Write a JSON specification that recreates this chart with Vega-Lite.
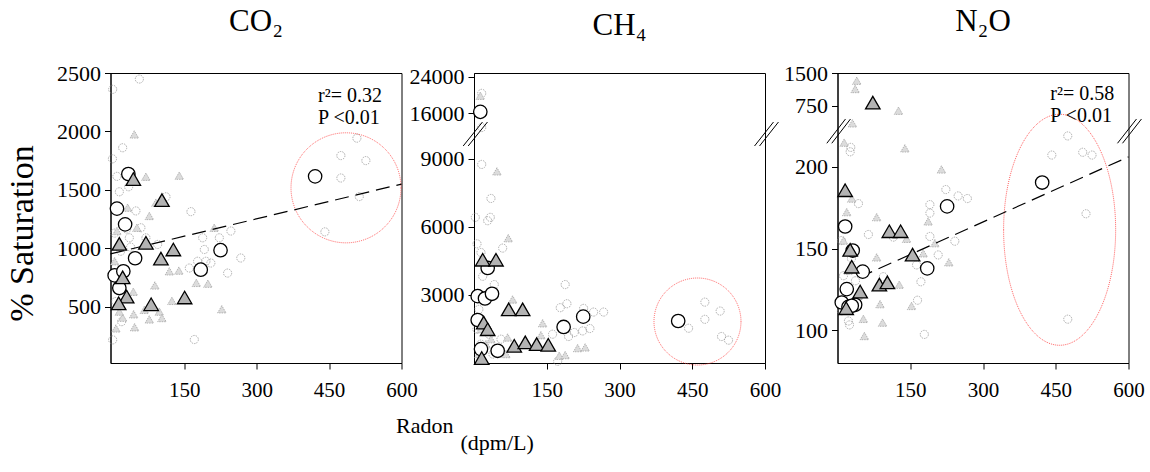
{
  "$schema": "https://vega.github.io/schema/vega-lite/v6.json",
  "background": "white",
  "padding": {"left": 4.5, "top": 5, "right": 5, "bottom": 5},
  "bounds": "flush",
  "spacing": 72.5,
  "config": {
    "font": "Liberation Serif",
    "view": {"stroke": "black", "strokeWidth": 1},
    "axis": {"grid": false, "domainColor": "black", "tickColor": "black", "labelColor": "black", "titleColor": "black", "labelFont": "Liberation Serif", "titleFont": "Liberation Serif", "labelFontSize": 21, "titleFontWeight": "normal", "tickSize": 6, "labelPadding": 4, "labelFlush": false, "labelOverlap": false},
    "title": {"font": "Liberation Serif", "fontSize": 31, "fontWeight": "normal", "color": "black", "offset": 24, "anchor": "middle"}
  },
  "datasets": {
    "co2": [
      {"x":1.5,"y":2360,"k":"a"},{"x":56.8,"y":2448,"k":"a"},{"x":22.2,"y":1860,"k":"a"},{"x":1,"y":1765,"k":"a"},{"x":10.4,"y":1615,"k":"a"},{"x":15.3,"y":1483,"k":"a"},{"x":34.6,"y":1526,"k":"a"},{"x":49.7,"y":1319,"k":"a"},{"x":112,"y":1440,"k":"a"},{"x":163.7,"y":1313,"k":"a"},{"x":60,"y":1175,"k":"a"},{"x":70.4,"y":1089,"k":"a"},{"x":36,"y":1089,"k":"a"},{"x":94.7,"y":1032,"k":"a"},{"x":188,"y":1089,"k":"a"},{"x":191.4,"y":989,"k":"a"},{"x":194.7,"y":888,"k":"a"},{"x":222.5,"y":1089,"k":"a"},{"x":246.5,"y":1147,"k":"a"},{"x":267,"y":916,"k":"a"},{"x":239.7,"y":787,"k":"a"},{"x":160.3,"y":830,"k":"a"},{"x":177.5,"y":888,"k":"a"},{"x":205,"y":873,"k":"a"},{"x":474.4,"y":1793,"k":"a"},{"x":507.6,"y":1942,"k":"a"},{"x":526.2,"y":1750,"k":"a"},{"x":474.4,"y":1601,"k":"a"},{"x":512.5,"y":1442,"k":"a"},{"x":441.3,"y":1140,"k":"a"},{"x":170.7,"y":218,"k":"a"},{"x":5.6,"y":1129,"k":"a"},{"x":18,"y":974,"k":"a"},{"x":7.7,"y":543,"k":"a"},{"x":20,"y":371,"k":"a"},{"x":1.5,"y":215,"k":"a"},{"x":30.5,"y":1164,"k":"a"},{"x":38.7,"y":1009,"k":"a"},
      {"x":46.4,"y":1974,"k":"b"},{"x":70.4,"y":1612,"k":"b"},{"x":139.6,"y":1621,"k":"b"},{"x":32.5,"y":1347,"k":"b"},{"x":77.5,"y":1276,"k":"b"},{"x":91.2,"y":1390,"k":"b"},{"x":212,"y":1175,"k":"b"},{"x":51.8,"y":1175,"k":"b"},{"x":10.4,"y":1147,"k":"b"},{"x":119,"y":802,"k":"b"},{"x":138.8,"y":808,"k":"b"},{"x":174.9,"y":703,"k":"b"},{"x":198.9,"y":696,"k":"b"},{"x":89,"y":681,"k":"b"},{"x":44.3,"y":627,"k":"b"},{"x":124.3,"y":549,"k":"b"},{"x":227.7,"y":477,"k":"b"},{"x":67.1,"y":472,"k":"b"},{"x":98.2,"y":457,"k":"b"},{"x":45,"y":434,"k":"b"},{"x":77.5,"y":390,"k":"b"},{"x":103.6,"y":402,"k":"b"},{"x":47,"y":323,"k":"b"},{"x":22.2,"y":405,"k":"b"},{"x":15.3,"y":457,"k":"b"},{"x":8.3,"y":313,"k":"b"},{"x":5.6,"y":888,"k":"b"},{"x":11.8,"y":715,"k":"b"},
      {"x":34,"y":1635,"k":"c"},{"x":10.4,"y":1339,"k":"c"},{"x":27.3,"y":1204,"k":"c"},{"x":48,"y":914,"k":"c"},{"x":225,"y":983,"k":"c"},{"x":184,"y":816,"k":"c"},{"x":5.6,"y":767,"k":"c"},{"x":23.6,"y":802,"k":"c"},{"x":15.3,"y":659,"k":"c"},{"x":421,"y":1615,"k":"c"},
      {"x":44.3,"y":1592,"k":"d"},{"x":103.6,"y":1411,"k":"d"},{"x":15.3,"y":1037,"k":"d"},{"x":70.4,"y":1046,"k":"d"},{"x":101.5,"y":911,"k":"d"},{"x":127.2,"y":989,"k":"d"},{"x":22.2,"y":750,"k":"d"},{"x":30.5,"y":586,"k":"d"},{"x":13.9,"y":528,"k":"d"},{"x":81.2,"y":520,"k":"d"},{"x":150.6,"y":578,"k":"d"}
    ],
    "co2fit": [{"x":-3,"y":951},{"x":600,"y":1549}],
    "ch4": [
      {"x":15.9,"y":20340,"k":"a"},{"x":15.9,"y":12848,"k":"a"},{"x":15.9,"y":8760,"k":"a"},{"x":35,"y":7258,"k":"a"},{"x":2.7,"y":6425,"k":"a"},{"x":28.2,"y":6277,"k":"a"},{"x":33.6,"y":6425,"k":"a"},{"x":6.2,"y":5256,"k":"a"},{"x":59.1,"y":5068,"k":"a"},{"x":14.4,"y":4875,"k":"a"},{"x":17.9,"y":3824,"k":"a"},{"x":41.8,"y":3460,"k":"a"},{"x":188,"y":3460,"k":"a"},{"x":177.8,"y":2440,"k":"a"},{"x":191.6,"y":2615,"k":"a"},{"x":226,"y":2409,"k":"a"},{"x":246.6,"y":2247,"k":"a"},{"x":267.3,"y":2247,"k":"a"},{"x":239,"y":1520,"k":"a"},{"x":224,"y":1415,"k":"a"},{"x":206.7,"y":1345,"k":"a"},{"x":195,"y":1169,"k":"a"},{"x":162,"y":1270,"k":"a"},{"x":476,"y":2685,"k":"a"},{"x":507.5,"y":2291,"k":"a"},{"x":476,"y":1927,"k":"a"},{"x":442.4,"y":1533,"k":"a"},{"x":510.4,"y":1169,"k":"a"},{"x":524.8,"y":1007,"k":"a"},{"x":172.5,"y":74,"k":"a"},{"x":10,"y":2365,"k":"a"},{"x":31,"y":1270,"k":"a"},{"x":14,"y":832,"k":"a"},{"x":39,"y":394,"k":"a"},{"x":55.6,"y":1051,"k":"a"},{"x":6,"y":1489,"k":"a"},
      {"x":13,"y":19813,"k":"b"},{"x":47.4,"y":8453,"k":"b"},{"x":70.7,"y":5506,"k":"b"},{"x":79.7,"y":2803,"k":"b"},{"x":141.6,"y":1752,"k":"b"},{"x":69.4,"y":1126,"k":"b"},{"x":138,"y":1226,"k":"b"},{"x":213.7,"y":657,"k":"b"},{"x":229.3,"y":688,"k":"b"},{"x":175.8,"y":320,"k":"b"},{"x":188,"y":350,"k":"b"},{"x":14,"y":1489,"k":"b"},{"x":24.7,"y":832,"k":"b"},{"x":45,"y":613,"k":"b"},{"x":10,"y":394,"k":"b"},{"x":66,"y":394,"k":"b"},{"x":35,"y":1051,"k":"b"},
      {"x":13,"y":16290,"k":"c"},{"x":28.2,"y":4192,"k":"c"},{"x":7.6,"y":2948,"k":"c"},{"x":22.7,"y":2847,"k":"c"},{"x":37.1,"y":3053,"k":"c"},{"x":7.6,"y":1897,"k":"c"},{"x":184.8,"y":1590,"k":"c"},{"x":225.2,"y":2045,"k":"c"},{"x":421,"y":1853,"k":"c"},{"x":14.4,"y":613,"k":"c"},{"x":48.8,"y":539,"k":"c"},
      {"x":17.9,"y":4555,"k":"d"},{"x":45.3,"y":4555,"k":"d"},{"x":71.5,"y":2365,"k":"d"},{"x":100.3,"y":2365,"k":"d"},{"x":20,"y":1783,"k":"d"},{"x":28.2,"y":1489,"k":"d"},{"x":83,"y":758,"k":"d"},{"x":105.7,"y":907,"k":"d"},{"x":129.2,"y":832,"k":"d"},{"x":153.1,"y":802,"k":"d"},{"x":15.9,"y":219,"k":"d"}
    ],
    "n2o": [
      {"x":27.3,"y":211.9,"k":"a"},{"x":26.1,"y":209.2,"k":"a"},{"x":474.8,"y":218.9,"k":"a"},{"x":441.9,"y":207.2,"k":"a"},{"x":505.6,"y":208.9,"k":"a"},{"x":524.8,"y":207.2,"k":"a"},{"x":512.4,"y":171.3,"k":"a"},{"x":474.8,"y":106.8,"k":"a"},{"x":223.4,"y":186.1,"k":"a"},{"x":248.7,"y":182.2,"k":"a"},{"x":267.8,"y":180.6,"k":"a"},{"x":190.5,"y":176.9,"k":"a"},{"x":43.2,"y":177.5,"k":"a"},{"x":190.5,"y":171.7,"k":"a"},{"x":63.7,"y":158.6,"k":"a"},{"x":190.5,"y":157.4,"k":"a"},{"x":241.9,"y":154.5,"k":"a"},{"x":207.6,"y":146.1,"k":"a"},{"x":163,"y":140,"k":"a"},{"x":172,"y":129.7,"k":"a"},{"x":94.6,"y":132.8,"k":"a"},{"x":115.1,"y":157,"k":"a"},{"x":165,"y":118.4,"k":"a"},{"x":179,"y":97.5,"k":"a"},{"x":24.7,"y":103.3,"k":"a"},{"x":8.2,"y":154.9,"k":"a"},{"x":28.8,"y":143.9,"k":"a"},{"x":12.3,"y":133.4,"k":"a"},{"x":37,"y":130.3,"k":"a"},{"x":22.6,"y":105.7,"k":"a"},{"x":8.2,"y":111.9,"k":"a"},
      {"x":39.8,"y":1323,"k":"b"},{"x":36.5,"y":1133,"k":"b"},{"x":125.8,"y":666,"k":"b"},{"x":30.9,"y":454,"k":"b"},{"x":13.8,"y":214.8,"k":"b"},{"x":139,"y":211.3,"k":"b"},{"x":214.4,"y":198.4,"k":"b"},{"x":29.4,"y":180.6,"k":"b"},{"x":80.8,"y":169.2,"k":"b"},{"x":187,"y":166.6,"k":"b"},{"x":19.1,"y":172.3,"k":"b"},{"x":142.5,"y":156,"k":"b"},{"x":200.8,"y":153.3,"k":"b"},{"x":80.8,"y":144.6,"k":"b"},{"x":176.8,"y":147.1,"k":"b"},{"x":229.6,"y":141.6,"k":"b"},{"x":127.4,"y":127.9,"k":"b"},{"x":87.8,"y":116,"k":"b"},{"x":152.7,"y":114.9,"k":"b"},{"x":93,"y":104.7,"k":"b"},{"x":55.5,"y":96.5,"k":"b"},{"x":12.3,"y":154.9,"k":"b"},{"x":22.6,"y":136.5,"k":"b"},{"x":43.2,"y":121.1,"k":"b"},{"x":53.4,"y":107,"k":"b"},
      {"x":422,"y":190.4,"k":"c"},{"x":226,"y":175.8,"k":"c"},{"x":15.8,"y":163.5,"k":"c"},{"x":31.4,"y":148.8,"k":"c"},{"x":52,"y":135.9,"k":"c"},{"x":185,"y":137.9,"k":"c"},{"x":19.1,"y":125.2,"k":"c"},{"x":8.8,"y":117,"k":"c"},{"x":36.4,"y":115.6,"k":"c"},{"x":22.6,"y":114.3,"k":"c"},{"x":29.4,"y":115,"k":"c"},
      {"x":72.8,"y":819,"k":"d"},{"x":15.8,"y":185.7,"k":"d"},{"x":106.9,"y":160.6,"k":"d"},{"x":130.1,"y":160.6,"k":"d"},{"x":154.8,"y":146.3,"k":"d"},{"x":26.1,"y":149.2,"k":"d"},{"x":29.4,"y":138.9,"k":"d"},{"x":86.3,"y":127.9,"k":"d"},{"x":102.8,"y":129.3,"k":"d"},{"x":46.7,"y":123.7,"k":"d"},{"x":17.9,"y":113.5,"k":"d"}
    ],
    "n2ofit": [{"x":45,"y":132.4},{"x":600,"y":206.1}]
  },
  "hconcat": [
    {
      "width": 291, "height": 290,
      "title": {"text": "CO₂"},
      "layer": [
        {"data": {"name": "co2"}, "transform": [{"filter": "datum.k == 'a'"}], "mark": {"type": "point", "shape": "circle", "size": 66, "filled": false, "stroke": "#8c8c8c", "strokeWidth": 0.7, "strokeDash": [1.5, 1], "opacity": 1},
         "encoding": {
          "x": {"field": "x", "type": "quantitative", "scale": {"domain": [-3, 600], "nice": false, "zero": false},
                "axis": {"values": [150, 300, 450, 600], "format": "d", "labelPadding": 10, "title": "Radon", "titleFontSize": 22, "titleAnchor": "end", "titleAlign": "left", "titleX": 285, "titlePadding": 15}},
          "y": {"field": "y", "type": "quantitative", "scale": {"domain": [17, 2500], "nice": false, "zero": false},
                "axis": {"values": [500, 1000, 1500, 2000, 2500], "format": "d", "labelFontSize": 22, "title": "% Saturation", "titleFontSize": 34, "titlePadding": 17, "titleY": 160}}}},
        {"data": {"values": [{}]}, "mark": {"type": "point", "shape": "circle", "size": 12100, "filled": false, "stroke": "#ff3b3b", "strokeWidth": 0.8, "strokeDash": [1, 1], "opacity": 1},
         "encoding": {"x": {"datum": 485, "type": "quantitative"}, "y": {"datum": 1517, "type": "quantitative"}}},
        {"data": {"name": "co2"}, "transform": [{"filter": "datum.k == 'b'"}], "mark": {"type": "point", "shape": "triangle-up", "size": 72, "filled": true, "fill": "#dcdcdc", "stroke": "#999999", "strokeWidth": 0.7, "strokeDash": [1.5, 1], "opacity": 1},
         "encoding": {"x": {"field": "x", "type": "quantitative"}, "y": {"field": "y", "type": "quantitative"}}},
        {"data": {"name": "co2fit"}, "mark": {"type": "line", "color": "black", "strokeWidth": 1.2, "strokeDash": [14, 7]},
         "encoding": {"x": {"field": "x", "type": "quantitative"}, "y": {"field": "y", "type": "quantitative"}}},
        {"data": {"name": "co2"}, "transform": [{"filter": "datum.k == 'c'"}], "mark": {"type": "point", "shape": "circle", "size": 180, "filled": true, "fill": "white", "stroke": "black", "strokeWidth": 1.3, "opacity": 1},
         "encoding": {"x": {"field": "x", "type": "quantitative"}, "y": {"field": "y", "type": "quantitative"}}},
        {"data": {"name": "co2"}, "transform": [{"filter": "datum.k == 'd'"}], "mark": {"type": "point", "shape": "triangle-up", "size": 210, "filled": true, "fill": "#b3b3b3", "stroke": "black", "strokeWidth": 1.3, "opacity": 1},
         "encoding": {"x": {"field": "x", "type": "quantitative"}, "y": {"field": "y", "type": "quantitative"}}},
        {"data": {"values": [{"t": "r²= 0.32"}]}, "mark": {"type": "text", "align": "left", "baseline": "middle", "fontSize": 20, "font": "Liberation Serif", "color": "black"},
         "encoding": {"text": {"field": "t"}, "x": {"datum": 427, "type": "quantitative"}, "y": {"datum": 2303, "type": "quantitative"}}},
        {"data": {"values": [{"t": "P <0.01"}]}, "mark": {"type": "text", "align": "left", "baseline": "middle", "fontSize": 20, "font": "Liberation Serif", "color": "black"},
         "encoding": {"text": {"field": "t"}, "x": {"datum": 427, "type": "quantitative"}, "y": {"datum": 2114, "type": "quantitative"}}}
      ]
    },
    {
      "width": 291, "height": 290,
      "title": {"text": "CH₄"},
      "layer": [
        {"data": {"name": "ch4"}, "transform": [{"filter": "datum.k == 'a'"}], "mark": {"type": "point", "shape": "circle", "size": 66, "filled": false, "stroke": "#8c8c8c", "strokeWidth": 0.7, "strokeDash": [1.5, 1], "opacity": 1},
         "encoding": {
          "x": {"field": "x", "type": "quantitative", "scale": {"domain": [0, 600], "nice": false, "zero": false},
                "axis": {"values": [150, 300, 450, 600], "format": "d", "labelPadding": 10, "title": "(dpm/L)", "titleFontSize": 22, "titleAnchor": "start", "titleAlign": "left", "titleX": -14, "titlePadding": 32}},
          "y": {"field": "y", "type": "quantitative", "scale": {"domain": [0, 10000, 10930, 24800], "range": [290, 63.3, 63.3, 0], "nice": false, "zero": false},
                "axis": {"values": [3000, 6000, 9000, 16000, 24000], "format": "d", "labelFontSize": 22, "title": null}}}},
        {"data": {"values": [{}]}, "mark": {"type": "point", "shape": "circle", "size": 7569, "filled": false, "stroke": "#ff3b3b", "strokeWidth": 0.8, "strokeDash": [1, 1], "opacity": 1},
         "encoding": {"x": {"datum": 460.8, "type": "quantitative"}, "y": {"datum": 1830, "type": "quantitative"}}},
        {"data": {"name": "ch4"}, "transform": [{"filter": "datum.k == 'b'"}], "mark": {"type": "point", "shape": "triangle-up", "size": 72, "filled": true, "fill": "#dcdcdc", "stroke": "#999999", "strokeWidth": 0.7, "strokeDash": [1.5, 1], "opacity": 1},
         "encoding": {"x": {"field": "x", "type": "quantitative"}, "y": {"field": "y", "type": "quantitative"}}},
        {"data": {"name": "ch4"}, "transform": [{"filter": "datum.k == 'c'"}], "mark": {"type": "point", "shape": "circle", "size": 180, "filled": true, "fill": "white", "stroke": "black", "strokeWidth": 1.3, "opacity": 1},
         "encoding": {"x": {"field": "x", "type": "quantitative"}, "y": {"field": "y", "type": "quantitative"}}},
        {"data": {"name": "ch4"}, "transform": [{"filter": "datum.k == 'd'"}], "mark": {"type": "point", "shape": "triangle-up", "size": 210, "filled": true, "fill": "#b3b3b3", "stroke": "black", "strokeWidth": 1.3, "opacity": 1},
         "encoding": {"x": {"field": "x", "type": "quantitative"}, "y": {"field": "y", "type": "quantitative"}}},
        {"data": {"values": [{}]}, "mark": {"type": "rule", "color": "black", "strokeWidth": 1, "clip": false},
         "encoding": {"x": {"datum": -22.3, "type": "quantitative"}, "x2": {"datum": 17.5}, "y": {"datum": 9572, "type": "quantitative"}, "y2": {"datum": 14063}}},
        {"data": {"values": [{}]}, "mark": {"type": "rule", "color": "black", "strokeWidth": 1, "clip": false},
         "encoding": {"x": {"datum": -12, "type": "quantitative"}, "x2": {"datum": 27.8}, "y": {"datum": 9572, "type": "quantitative"}, "y2": {"datum": 14063}}},
        {"data": {"values": [{}]}, "mark": {"type": "rule", "color": "black", "strokeWidth": 1, "clip": false},
         "encoding": {"x": {"datum": 578.4, "type": "quantitative"}, "x2": {"datum": 617.5}, "y": {"datum": 9572, "type": "quantitative"}, "y2": {"datum": 14063}}},
        {"data": {"values": [{}]}, "mark": {"type": "rule", "color": "black", "strokeWidth": 1, "clip": false},
         "encoding": {"x": {"datum": 588.7, "type": "quantitative"}, "x2": {"datum": 627.8}, "y": {"datum": 9572, "type": "quantitative"}, "y2": {"datum": 14063}}}
      ]
    },
    {
      "width": 291, "height": 290,
      "title": {"text": "N₂O"},
      "layer": [
        {"data": {"name": "n2o"}, "transform": [{"filter": "datum.k == 'a'"}], "mark": {"type": "point", "shape": "circle", "size": 66, "filled": false, "stroke": "#8c8c8c", "strokeWidth": 0.7, "strokeDash": [1.5, 1], "opacity": 1},
         "encoding": {
          "x": {"field": "x", "type": "quantitative", "scale": {"domain": [0, 600], "nice": false, "zero": false},
                "axis": {"values": [150, 300, 450, 600], "format": "d", "labelPadding": 10, "title": null}},
          "y": {"field": "y", "type": "quantitative", "scale": {"domain": [80, 221, 300, 750, 1500], "range": [290, 59.5, 59.5, 32.7, 0], "nice": false, "zero": false},
                "axis": {"values": [100, 150, 200, 750, 1500], "format": "d", "labelFontSize": 22, "title": null}}}},
        {"data": {"values": [{}]}, "mark": {"type": "point", "shape": "M -0.485 0 A 0.485 1 0 1 1 0.485 0 A 0.485 1 0 1 1 -0.485 0 Z", "size": 53361, "filled": false, "stroke": "#ff3b3b", "strokeWidth": 0.8, "strokeDash": [1, 1], "opacity": 1},
         "encoding": {"x": {"datum": 458, "type": "quantitative"}, "y": {"datum": 161.5, "type": "quantitative"}}},
        {"data": {"name": "n2o"}, "transform": [{"filter": "datum.k == 'b'"}], "mark": {"type": "point", "shape": "triangle-up", "size": 72, "filled": true, "fill": "#dcdcdc", "stroke": "#999999", "strokeWidth": 0.7, "strokeDash": [1.5, 1], "opacity": 1},
         "encoding": {"x": {"field": "x", "type": "quantitative"}, "y": {"field": "y", "type": "quantitative"}}},
        {"data": {"name": "n2ofit"}, "mark": {"type": "line", "color": "black", "strokeWidth": 1.2, "strokeDash": [14, 7]},
         "encoding": {"x": {"field": "x", "type": "quantitative"}, "y": {"field": "y", "type": "quantitative"}}},
        {"data": {"name": "n2o"}, "transform": [{"filter": "datum.k == 'c'"}], "mark": {"type": "point", "shape": "circle", "size": 180, "filled": true, "fill": "white", "stroke": "black", "strokeWidth": 1.3, "opacity": 1},
         "encoding": {"x": {"field": "x", "type": "quantitative"}, "y": {"field": "y", "type": "quantitative"}}},
        {"data": {"name": "n2o"}, "transform": [{"filter": "datum.k == 'd'"}], "mark": {"type": "point", "shape": "triangle-up", "size": 210, "filled": true, "fill": "#b3b3b3", "stroke": "black", "strokeWidth": 1.3, "opacity": 1},
         "encoding": {"x": {"field": "x", "type": "quantitative"}, "y": {"field": "y", "type": "quantitative"}}},
        {"data": {"values": [{"t": "r²= 0.58"}]}, "mark": {"type": "text", "align": "left", "baseline": "middle", "fontSize": 20, "font": "Liberation Serif", "color": "black"},
         "encoding": {"text": {"field": "t"}, "x": {"datum": 438.6, "type": "quantitative"}, "y": {"datum": 1018, "type": "quantitative"}}},
        {"data": {"values": [{"t": "P <0.01"}]}, "mark": {"type": "text", "align": "left", "baseline": "middle", "fontSize": 20, "font": "Liberation Serif", "color": "black"},
         "encoding": {"text": {"field": "t"}, "x": {"datum": 438.6, "type": "quantitative"}, "y": {"datum": 577, "type": "quantitative"}}},
        {"data": {"values": [{}]}, "mark": {"type": "rule", "color": "black", "strokeWidth": 1, "clip": false},
         "encoding": {"x": {"datum": -22, "type": "quantitative"}, "x2": {"datum": 16.5}, "y": {"datum": 214.4, "type": "quantitative"}, "y2": {"datum": 526.7}}},
        {"data": {"values": [{}]}, "mark": {"type": "rule", "color": "black", "strokeWidth": 1, "clip": false},
         "encoding": {"x": {"datum": -11.8, "type": "quantitative"}, "x2": {"datum": 26.8}, "y": {"datum": 214.4, "type": "quantitative"}, "y2": {"datum": 526.7}}},
        {"data": {"values": [{}]}, "mark": {"type": "rule", "color": "black", "strokeWidth": 1, "clip": false},
         "encoding": {"x": {"datum": 577.3, "type": "quantitative"}, "x2": {"datum": 616.5}, "y": {"datum": 214.4, "type": "quantitative"}, "y2": {"datum": 526.7}}},
        {"data": {"values": [{}]}, "mark": {"type": "rule", "color": "black", "strokeWidth": 1, "clip": false},
         "encoding": {"x": {"datum": 587.6, "type": "quantitative"}, "x2": {"datum": 626.8}, "y": {"datum": 214.4, "type": "quantitative"}, "y2": {"datum": 526.7}}}
      ]
    }
  ]
}
